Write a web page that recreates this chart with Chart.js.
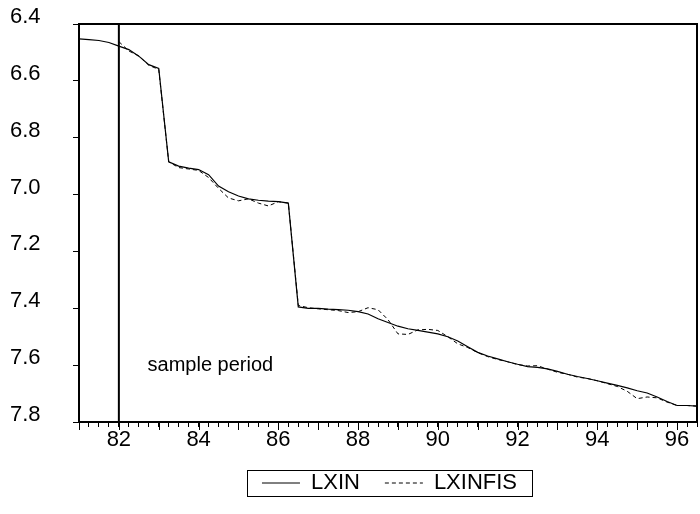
<!DOCTYPE html>
<html>
<head>
<meta charset="utf-8">
<script src="https://cdn.jsdelivr.net/npm/chart.js@4.4.1/dist/chart.umd.min.js"></script>
<style>
html,body{margin:0;padding:0;background:#fff;}
#wrap{width:700px;height:514px;}
</style>
</head>
<body>
<div id="wrap"><canvas id="c" width="700" height="514"></canvas></div>
<script>
// ---- data (quarterly, 1981Q1 - 1996Q3) ----
const quarters = [
  "81Q1","81Q2","81Q3","81Q4","82Q1","82Q2","82Q3","82Q4",
  "83Q1","83Q2","83Q3","83Q4","84Q1","84Q2","84Q3","84Q4",
  "85Q1","85Q2","85Q3","85Q4","86Q1","86Q2","86Q3","86Q4",
  "87Q1","87Q2","87Q3","87Q4","88Q1","88Q2","88Q3","88Q4",
  "89Q1","89Q2","89Q3","89Q4","90Q1","90Q2","90Q3","90Q4",
  "91Q1","91Q2","91Q3","91Q4","92Q1","92Q2","92Q3","92Q4",
  "93Q1","93Q2","93Q3","93Q4","94Q1","94Q2","94Q3","94Q4",
  "95Q1","95Q2","95Q3","95Q4","96Q1","96Q2","96Q3"
];
const lxin = [
  6.452, 6.455, 6.458, 6.465, 6.478, 6.490, 6.513, 6.543,
  6.556, 6.885, 6.900, 6.907, 6.912, 6.930, 6.970, 6.990,
  7.005, 7.015, 7.020, 7.023, 7.025, 7.030, 7.395, 7.400,
  7.400, 7.403, 7.405, 7.407, 7.412, 7.420, 7.437, 7.450,
  7.463, 7.472, 7.478, 7.484, 7.490, 7.500, 7.515, 7.535,
  7.555, 7.568, 7.578, 7.588, 7.597, 7.605, 7.608, 7.613,
  7.622, 7.632, 7.640, 7.647, 7.655, 7.663, 7.671, 7.680,
  7.690, 7.698, 7.712, 7.728, 7.742, 7.742, 7.744
];
const lxinfis = [
  null, null, null, null, 6.462, 6.495, 6.512, 6.545,
  6.560, 6.885, 6.905, 6.910, 6.915, 6.940, 6.978, 7.012,
  7.022, 7.015, 7.030, 7.040, 7.025, 7.030, 7.390, 7.398,
  7.402, 7.405, 7.408, 7.415, 7.412, 7.398, 7.405, 7.440,
  7.490, 7.492, 7.476, 7.474, 7.478, 7.500, 7.525, 7.538,
  7.556, 7.570, 7.580, 7.588, 7.598, 7.603, 7.602, 7.614,
  7.625, 7.632, 7.642, 7.647, 7.655, 7.665, 7.675, 7.692,
  7.718, 7.712, 7.715, 7.730, 7.742, 7.742, 7.744
];
const seriesNames = ["LXIN", "LXINFIS"];
const yTickValues = [6.4, 6.6, 6.8, 7.0, 7.2, 7.4, 7.6, 7.8];
const xTickLabels = ["82", "84", "86", "88", "90", "92", "94", "96"];
const sampleStart = "82Q1";
const sampleText = "sample period";
const sampleTextAt = { x: 82.72, y: 7.6 };

// ---- helpers ----
function qx(q) { const yr = parseInt(q.slice(0, 2), 10); const qq = parseInt(q.slice(3), 10); return yr + (qq - 1) / 4; }
const FONT = '"Liberation Sans", Arial, Helvetica, sans-serif';
Chart.defaults.color = '#000';
Chart.defaults.font.family = FONT;

// shift the library legend right of centre, as in the source
const legendShift = { id: 'legendShift', afterLayout(chart) { const lg = chart.legend; if (lg) { lg.left += 72; } } };

const framePlugin = {
  id: 'frame',
  afterDraw(chart) {
    const { ctx, chartArea: a, scales: { x, y } } = chart;
    ctx.save();
    ctx.strokeStyle = '#000';
    ctx.lineWidth = 2;
    ctx.strokeRect(a.left, a.top, a.right - a.left, a.bottom - a.top);
    ctx.lineWidth = 1;
    x.ticks.forEach(t => {
      if (Math.abs(t.value - Math.round(t.value)) < 1e-9) {
        const px = Math.round(x.getPixelForValue(t.value)) + 0.5;
        ctx.beginPath(); ctx.moveTo(px, a.bottom); ctx.lineTo(px, a.bottom + 8); ctx.stroke();
      }
    });
    const sx = x.getPixelForValue(qx(sampleStart));
    ctx.lineWidth = 2;
    ctx.beginPath(); ctx.moveTo(sx, a.top); ctx.lineTo(sx, a.bottom); ctx.stroke();
    ctx.fillStyle = '#000';
    ctx.font = '20px ' + FONT;
    ctx.textAlign = 'left';
    ctx.textBaseline = 'middle';
    ctx.fillText(sampleText, x.getPixelForValue(sampleTextAt.x), y.getPixelForValue(sampleTextAt.y));
    const hb = chart.legend.legendHitBoxes;
    if (hb && hb.length) {
      const l = Math.min(...hb.map(h => h.left)) - 15;
      const r = Math.max(...hb.map(h => h.left + h.width)) + 15;
      const t = Math.min(...hb.map(h => h.top)) - 2;
      const b = Math.max(...hb.map(h => h.top + h.height)) + 2;
      ctx.lineWidth = 1;
      ctx.strokeRect(Math.round(l) + 0.5, Math.round(t) + 0.5, Math.round(r - l), Math.round(b - t));
    }
    ctx.restore();
  }
};

new Chart(document.getElementById('c'), {
  type: 'line',
  data: {
    datasets: [
      {
        label: seriesNames[0],
        data: quarters.map((q, i) => ({ x: qx(q), y: lxin[i] })),
        borderColor: '#000', borderWidth: 1.2, pointRadius: 0, tension: 0, fill: false
      },
      {
        label: seriesNames[1],
        data: quarters.map((q, i) => ({ x: qx(q), y: lxinfis[i] })),
        borderColor: '#000', borderWidth: 1, borderDash: [4, 3], pointRadius: 0, tension: 0, fill: false, spanGaps: false
      }
    ]
  },
  options: {
    responsive: false,
    animation: false,
    devicePixelRatio: 1,
    layout: { padding: { top: 24, right: 3, left: 10, bottom: 10 } },
    plugins: {
      tooltip: { enabled: false },
      legend: {
        position: 'bottom',
        labels: {
          usePointStyle: true, pointStyle: 'line', pointStyleWidth: 38,
          color: '#000', font: { size: 22, family: FONT }, padding: 25,
          generateLabels: chart => {
            const items = Chart.defaults.plugins.legend.labels.generateLabels(chart);
            items.forEach(it => {
              const ds = chart.data.datasets[it.datasetIndex];
              it.lineDash = ds.borderDash || [];
              it.lineWidth = 1;
              it.strokeStyle = ds.borderColor;
              it.pointStyle = 'line';
            });
            return items;
          }
        }
      }
    },
    scales: {
      x: {
        type: 'linear',
        min: qx(quarters[0]), max: qx(quarters[quarters.length - 1]),
        afterBuildTicks: s => { s.ticks = quarters.map(q => ({ value: qx(q) })); },
        ticks: {
          autoSkip: false, maxRotation: 0, minRotation: 0, padding: 0,
          font: { size: 22, family: FONT }, color: '#000',
          callback: v => {
            const lab = String(Math.round(v));
            return (Math.abs(v - Math.round(v)) < 1e-9 && xTickLabels.includes(lab)) ? lab : '';
          }
        },
        grid: { drawOnChartArea: false, tickLength: 5, color: '#000', tickColor: '#000' },
        border: { display: false },
        afterFit: s => { s.height = 25; }
      },
      y: {
        reverse: true,
        min: yTickValues[0], max: yTickValues[yTickValues.length - 1],
        afterBuildTicks: s => { s.ticks = yTickValues.map(v => ({ value: v })); },
        ticks: {
          padding: 4, crossAlign: 'far', labelOffset: -7,
          font: { size: 22, family: FONT }, color: '#000',
          callback: v => Number(v).toFixed(1)
        },
        grid: { drawOnChartArea: false, tickLength: 6, color: '#000', tickColor: '#000' },
        border: { display: false },
        afterFit: s => { s.width = 69; }
      }
    }
  },
  plugins: [legendShift, framePlugin]
});
</script>
</body>
</html>
